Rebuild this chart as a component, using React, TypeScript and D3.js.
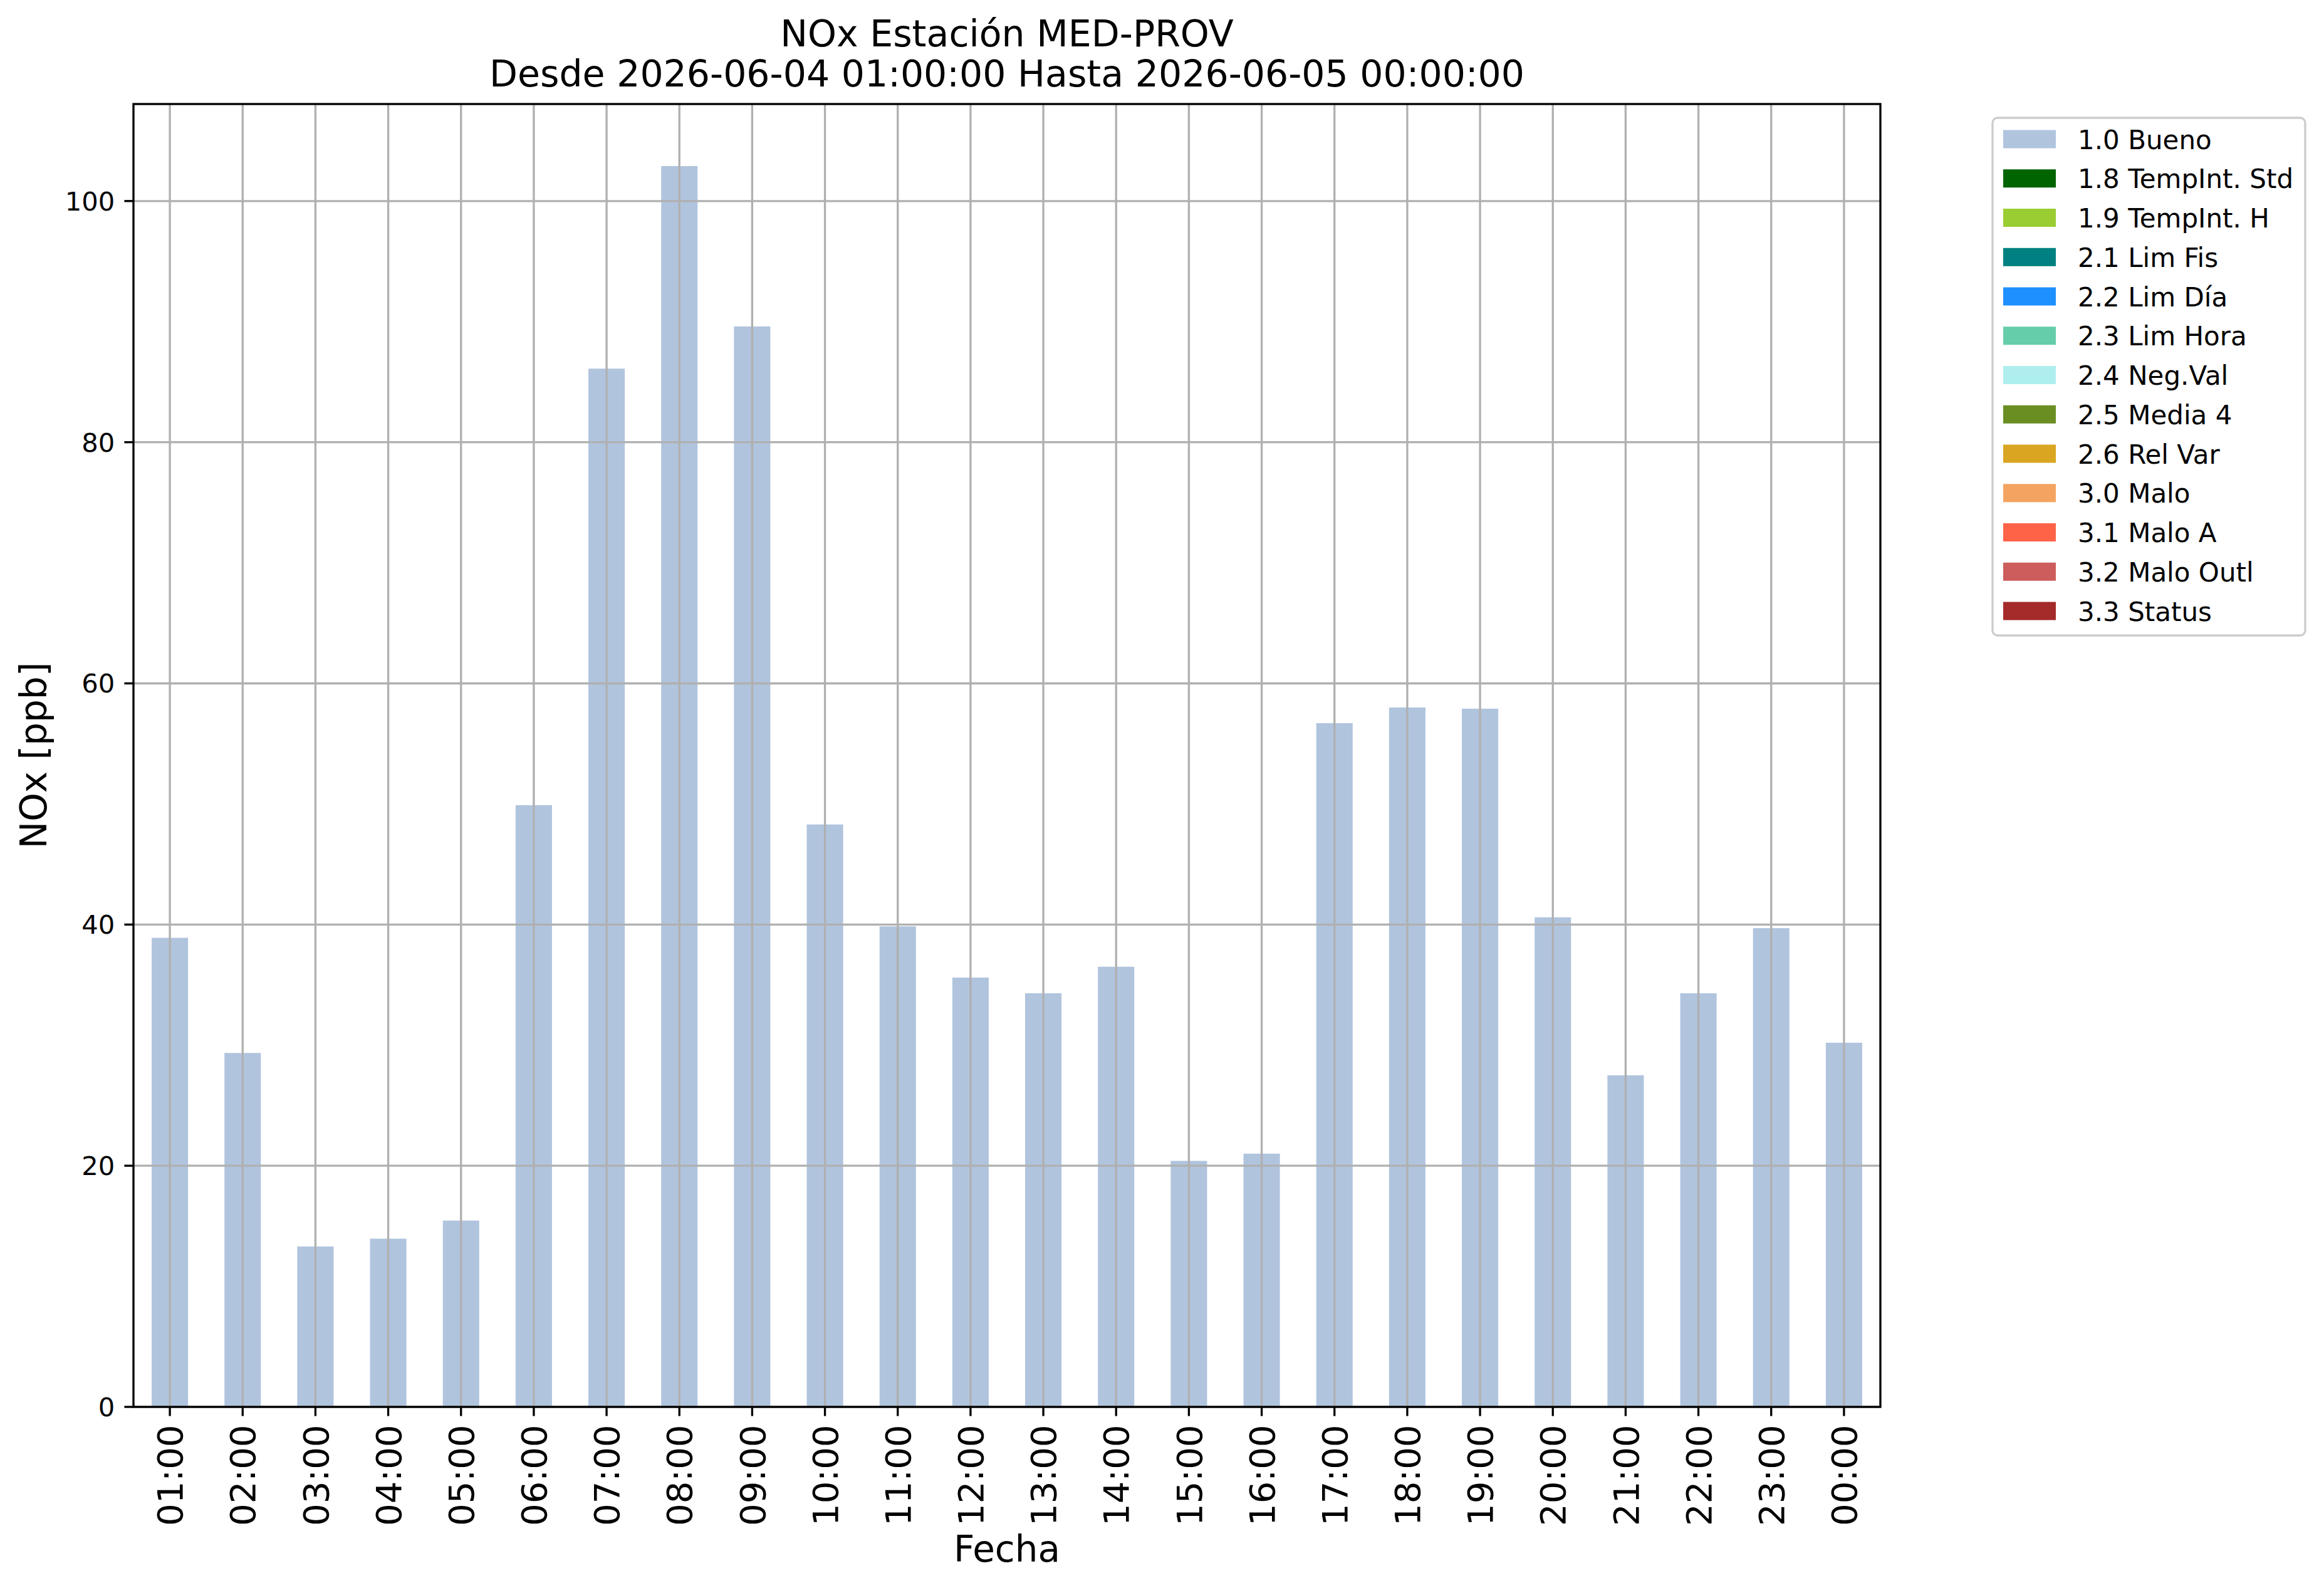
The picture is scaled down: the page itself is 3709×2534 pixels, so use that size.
import * as d3 from 'd3';

// hourly NOx readings, all flagged 1.0 Bueno
const hours = [
  '01:00', '02:00', '03:00', '04:00', '05:00', '06:00', '07:00', '08:00',
  '09:00', '10:00', '11:00', '12:00', '13:00', '14:00', '15:00', '16:00',
  '17:00', '18:00', '19:00', '20:00', '21:00', '22:00', '23:00', '00:00',
];
const noxValues = [
  38.9, 29.35, 13.3, 13.95, 15.45, 49.9, 86.1, 102.9, 89.6, 48.3, 39.85, 35.6,
  34.3, 36.5, 20.4, 21.0, 56.7, 58.0, 57.9, 40.6, 27.5, 34.3, 39.7, 30.2,
];
const yTicks = [0, 20, 40, 60, 80, 100];

const flagLabels = [
  '1.0 Bueno', '1.8 TempInt. Std', '1.9 TempInt. H', '2.1 Lim Fis', '2.2 Lim Día',
  '2.3 Lim Hora', '2.4 Neg.Val', '2.5 Media 4', '2.6 Rel Var', '3.0 Malo',
  '3.1 Malo A', '3.2 Malo Outl', '3.3 Status',
];
const flagColors = [
  '#b0c4de', '#006400', '#9acd32', '#008080', '#1e90ff', '#66cdaa', '#afeeee',
  '#6b8e23', '#daa520', '#f4a460', '#ff6347', '#cd5c5c', '#a52a2a',
];

const W = 3709;
const H = 2534;
const plot = { left: 213, right: 3001, top: 166, bottom: 2245 };
const font = '"DejaVu Sans", sans-serif';
const lw = 3.33;
const tickLen = 14.6;

export default function App() {
  const x = d3
    .scaleBand<string>()
    .domain(hours)
    .range([plot.left, plot.right])
    .paddingInner(0.5)
    .paddingOuter(0.25);

  const yMax = (d3.max(noxValues) ?? 1) * 1.05;
  const y = d3.scaleLinear().domain([0, yMax]).range([plot.bottom, plot.top]);

  const cx = (h: string) => (x(h) ?? 0) + x.bandwidth() / 2;
  const midX = (plot.left + plot.right) / 2;
  const midY = (plot.top + plot.bottom) / 2;

  const legend = { x: 3180, y: 188, w: 499, h: 826, row0: 222, step: 62.75 };

  return (
    <svg
      width={W}
      height={H}
      viewBox={`0 0 ${W} ${H}`}
      style={{ position: 'absolute', left: 0, top: 0, background: '#fff' }}
      fontFamily={font}
    >
      <rect x={0} y={0} width={W} height={H} fill="#fff" />

      {/* bars */}
      {hours.map((h, i) => (
        <rect
          key={h}
          x={x(h)}
          y={y(noxValues[i])}
          width={x.bandwidth()}
          height={plot.bottom - y(noxValues[i])}
          fill={flagColors[0]}
        />
      ))}

      {/* grid above the bars, like matplotlib */}
      {hours.map((h) => (
        <line key={'gx' + h} x1={cx(h)} x2={cx(h)} y1={plot.top} y2={plot.bottom} stroke="#b0b0b0" strokeWidth={lw} />
      ))}
      {yTicks.map((t) => (
        <line key={'gy' + t} x1={plot.left} x2={plot.right} y1={y(t)} y2={y(t)} stroke="#b0b0b0" strokeWidth={lw} />
      ))}

      {/* spines */}
      <rect
        x={plot.left}
        y={plot.top}
        width={plot.right - plot.left}
        height={plot.bottom - plot.top}
        fill="none"
        stroke="#000"
        strokeWidth={lw}
      />

      {/* y axis */}
      {yTicks.map((t) => (
        <g key={'yt' + t}>
          <line x1={plot.left - tickLen} x2={plot.left} y1={y(t)} y2={y(t)} stroke="#000" strokeWidth={lw} />
          <text x={plot.left - tickLen - 15} y={y(t)} dy="0.36em" textAnchor="end" fontSize={41.7}>
            {t}
          </text>
        </g>
      ))}

      {/* x axis */}
      {hours.map((h) => (
        <g key={'xt' + h}>
          <line x1={cx(h)} x2={cx(h)} y1={plot.bottom} y2={plot.bottom + tickLen} stroke="#000" strokeWidth={lw} />
          <text
            transform={`translate(${cx(h)},${plot.bottom + tickLen + 14}) rotate(-90)`}
            dy="0.36em"
            textAnchor="end"
            fontSize={56}
          >
            {h}
          </text>
        </g>
      ))}

      {/* labels and title */}
      <text x={midX} y={2492} textAnchor="middle" fontSize={58}>
        Fecha
      </text>
      <text transform={`translate(74,${midY}) rotate(-90)`} textAnchor="middle" fontSize={58}>
        NOx [ppb]
      </text>
      <text x={midX} y={74} textAnchor="middle" fontSize={58.5}>
        NOx Estación MED-PROV
      </text>
      <text x={midX} y={138} textAnchor="middle" fontSize={58.5}>
        Desde 2026-06-04 01:00:00 Hasta 2026-06-05 00:00:00
      </text>

      {/* legend */}
      <rect
        x={legend.x}
        y={legend.y}
        width={legend.w}
        height={legend.h}
        rx={8}
        fill="#fff"
        fillOpacity={0.8}
        stroke="#cccccc"
        strokeWidth={3.3}
      />
      {flagLabels.map((lab, i) => {
        const ry = legend.row0 + i * legend.step;
        return (
          <g key={lab}>
            <rect x={3197} y={ry - 14.5} width={84} height={29} fill={flagColors[i]} />
            <text x={3316} y={ry + 15.5} fontSize={42}>
              {lab}
            </text>
          </g>
        );
      })}
    </svg>
  );
}
